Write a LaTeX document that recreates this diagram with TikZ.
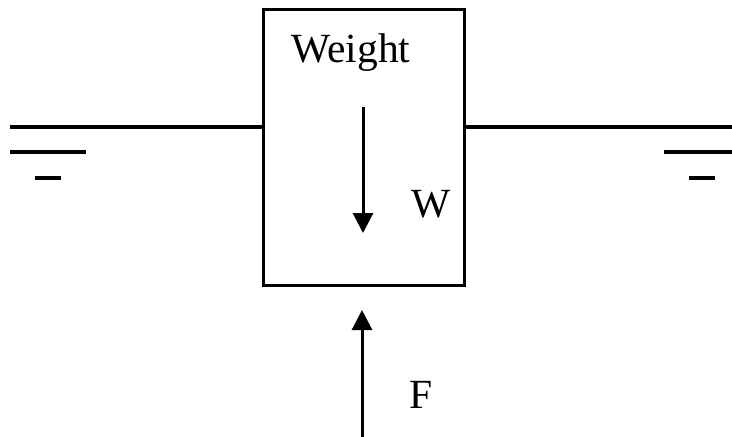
\documentclass[tikz,border=0pt]{standalone}
\usepackage{fontspec}
\setmainfont{Liberation Serif}
\usetikzlibrary{arrows.meta}
\begin{document}
\begin{tikzpicture}[x=1pt,y=-1pt,
  water/.style={line width=3.8pt},
  boxst/.style={draw,line width=2.8pt,inner sep=0pt,minimum width=201pt,minimum height=276pt,anchor=north west},
  force/.style={line width=3pt,-{Triangle[length=20pt,width=20pt]}},
  lbl/.style={font=\fontsize{41.5}{48}\selectfont,anchor=base,inner sep=0pt}]
\useasboundingbox (0,0) rectangle (732,437);
\node[boxst] (box) at (262,8) {};
\node[lbl] (weight) at (351,62) {Weight};
\node[lbl] (w) at (431,217) {W};
\node[lbl] (f) at (421,408) {F};
% water surface left
\coordinate (la) at (10,127);
\coordinate (lb1) at (10,152);
\coordinate (lb2) at (86,152);
\coordinate (lc1) at (35,178);
\coordinate (lc2) at (61,178);
\draw[water] (la) -- (la -| box.west);
\draw[water] (lb1) -- (lb2);
\draw[water] (lc1) -- (lc2);
% water surface right
\coordinate (ra) at (732,127);
\coordinate (rb1) at (664,152);
\coordinate (rb2) at (732,152);
\coordinate (rc1) at (689,178);
\coordinate (rc2) at (715,178);
\draw[water] (ra -| box.east) -- (ra);
\draw[water] (rb1) -- (rb2);
\draw[water] (rc1) -- (rc2);
% forces
\coordinate (w1) at (363,107);
\coordinate (w2) at (363,233);
\draw[force] (w1) -- (w2);
\coordinate (f1) at (362,437);
\coordinate (f2) at (362,310);
\draw[force] (f1) -- (f2);
\end{tikzpicture}
\end{document}
